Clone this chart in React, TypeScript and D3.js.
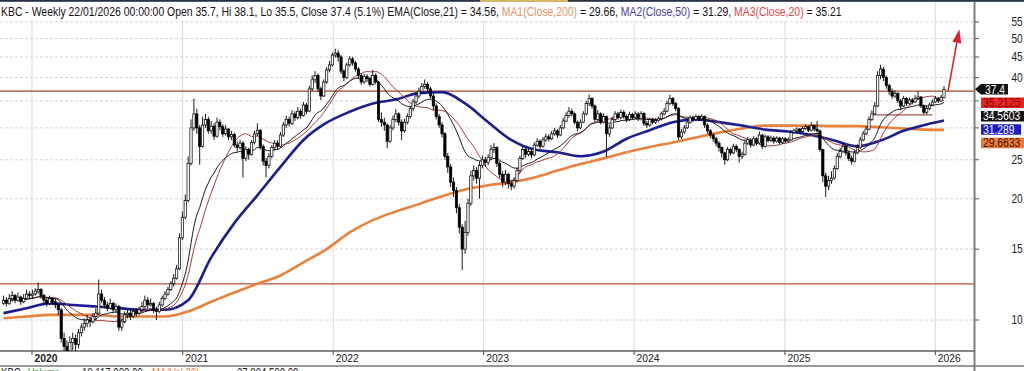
import React from 'react';
import * as d3 from 'd3';

// ---------- DATA ----------
const START_UTC = Date.UTC(2019, 9, 24); // first weekly bar
const END_UTC = Date.UTC(2026, 0, 22); // last weekly bar
const firstOpen = 11.0;

const closes = [
  11.2, 11.0, 11.3, 11.5, 11.2, 11.4, 11.1, 11.3, 11.6, 11.5,
  11.6, 11.8, 11.9, 11.5, 11.2, 11.0, 11.3, 11.1, 10.9, 10.6,
  9.0, 8.6, 8.3, 8.8, 9.0, 8.7, 9.3, 9.6, 9.8, 10.0,
  9.9, 10.2, 10.4, 11.6, 11.2, 10.9, 10.7, 11.0, 10.6, 10.8,
  9.6, 9.9, 10.3, 10.4, 10.2, 10.5, 10.4, 10.6, 10.8, 11.2,
  10.9, 11.0, 10.6, 10.5, 10.9, 11.3, 11.6, 11.9, 12.3, 12.7,
  13.4, 16.0, 18.0, 19.8, 24.5, 30.0, 32.5, 30.0, 27.0, 30.5,
  31.5, 29.5, 30.3, 28.6, 31.0, 30.2, 29.0, 29.8, 28.5, 28.9,
  27.2, 26.8, 27.5, 25.2, 26.5, 25.8, 27.6, 29.0, 29.6, 27.0,
  24.8, 24.2, 25.5, 26.8, 27.5, 27.0, 28.8, 30.5, 31.5, 30.8,
  32.5, 31.8, 33.0, 32.2, 34.2, 33.0, 37.5, 39.5, 40.5, 37.5,
  36.0, 39.0, 41.8, 43.0, 45.5, 46.0, 45.0, 41.5, 40.0, 43.0,
  44.5, 43.5, 42.0, 40.5, 39.0, 40.2, 39.8, 38.5, 40.5, 39.0,
  31.5, 31.0, 30.5, 27.8, 30.0, 31.5, 32.5, 31.0, 29.5, 31.0,
  32.0, 33.5, 34.8, 36.0, 37.0, 38.0, 38.5, 37.5, 36.0, 34.0,
  32.0, 30.5, 29.0, 25.5, 24.0, 22.0, 21.0, 19.0, 17.0, 15.0,
  16.5, 19.5, 22.8, 23.5, 22.5, 24.2, 25.0, 24.6, 25.3, 26.5,
  26.8, 24.5, 23.0, 22.0, 23.0, 21.8, 21.5, 22.2, 23.5, 25.2,
  26.5, 25.8, 26.2, 25.7, 27.2, 27.8, 27.0, 28.0, 28.5, 28.2,
  29.0, 29.5, 28.8, 30.0, 31.2, 32.2, 33.0, 32.5, 31.0, 30.0,
  31.0, 32.5, 34.5, 35.5, 34.0, 31.5, 32.5, 31.0, 32.0, 29.0,
  30.0, 31.5, 32.5, 31.8, 32.8, 32.0, 31.5, 32.4, 31.8, 32.5,
  31.6, 32.6, 30.8, 30.5, 31.5, 31.0, 31.3, 31.6, 32.5, 33.0,
  34.5, 35.5, 34.5, 33.5, 28.5, 29.3, 30.0, 31.0, 31.8, 31.5,
  32.0, 31.6, 32.0, 30.5, 29.5, 28.8, 28.2, 27.5, 26.8, 26.0,
  25.0, 26.5, 26.0, 27.0, 26.5, 25.5, 25.8, 27.5, 28.0, 27.2,
  28.2, 27.5, 28.8, 27.0, 28.5, 28.0, 28.3, 27.8, 28.3, 27.6,
  28.2, 27.8, 28.0, 29.2, 29.5, 29.8, 29.4, 29.9, 30.2, 29.6,
  30.4, 29.8, 29.5, 26.5, 22.8, 21.5, 22.2, 22.5, 23.8, 25.5,
  26.2, 27.0, 26.0, 25.2, 24.8, 26.0, 26.8, 28.0, 29.0, 29.8,
  31.5, 32.5, 34.0, 40.5, 42.0, 40.0, 38.2, 37.0, 36.0, 36.5,
  35.0, 34.0, 35.5, 34.5, 35.2, 34.8, 35.5, 35.8, 34.0, 32.8,
  33.5, 34.2, 34.8, 35.5, 35.0, 35.7, 37.4,
];

const highs = [
  11.5, 11.4, 11.6, 11.8, 11.6, 11.7, 11.5, 11.6, 11.9, 11.8,
  11.9, 12.0, 12.4, 12.0, 11.6, 11.4, 11.5, 11.4, 11.3, 11.0,
  10.7, 9.3, 8.9, 9.1, 9.3, 9.2, 9.5, 9.8, 10.1, 10.3,
  10.2, 10.4, 10.7, 12.6, 11.9, 11.4, 11.1, 11.3, 11.1, 11.0,
  10.9, 10.1, 10.5, 10.6, 10.6, 10.7, 10.7, 10.8, 11.1, 11.5,
  11.4, 11.3, 11.1, 10.8, 11.1, 11.5, 11.8, 12.1, 12.5, 13.0,
  13.7, 16.4, 18.6, 20.5, 25.5, 31.5, 35.5, 33.5, 30.5, 32.0,
  32.5, 32.0, 31.2, 30.8, 31.8, 31.5, 30.6, 30.5, 30.0, 29.5,
  29.2, 27.8, 28.0, 27.8, 27.0, 26.8, 28.0, 29.5, 30.8, 29.8,
  27.3, 25.3, 26.0, 27.2, 28.0, 28.0, 29.3, 31.0, 32.2, 32.0,
  33.2, 33.0, 33.8, 33.5, 34.8, 34.6, 38.2, 40.5, 41.5, 41.0,
  38.0, 39.6, 42.5, 44.0, 46.2, 47.2, 46.8, 45.5, 42.0, 43.6,
  45.2, 45.0, 44.0, 42.5, 41.0, 40.8, 40.8, 40.2, 41.8, 41.0,
  39.2, 32.8, 31.8, 30.8, 30.5, 32.2, 33.4, 32.8, 31.5, 31.6,
  32.6, 34.0, 35.4, 36.8, 37.8, 38.8, 39.6, 39.0, 38.0, 36.5,
  34.5, 32.5, 31.0, 29.3, 26.0, 24.4, 22.6, 21.4, 19.4, 17.3,
  17.6, 20.0, 23.5, 24.2, 24.0, 24.8, 25.6, 25.4, 25.8, 27.2,
  27.5, 27.0, 24.8, 23.4, 23.6, 23.2, 22.2, 22.6, 23.9, 25.6,
  27.0, 26.8, 26.7, 26.5, 27.6, 28.3, 28.1, 28.5, 29.0, 28.9,
  29.5, 30.0, 29.8, 30.5, 31.8, 32.8, 33.8, 33.5, 32.8, 31.3,
  31.5, 33.0, 35.0, 36.3, 35.8, 34.3, 33.2, 32.8, 32.6, 32.2,
  30.6, 32.0, 33.0, 32.9, 33.3, 33.2, 32.4, 32.9, 32.7, 33.0,
  32.8, 33.0, 32.8, 31.2, 31.8, 31.8, 31.7, 32.0, 32.9, 33.6,
  35.0, 36.3, 35.8, 34.8, 33.8, 29.8, 30.5, 31.5, 32.2, 32.2,
  32.4, 32.3, 32.4, 32.2, 30.8, 29.8, 29.1, 28.5, 27.8, 27.0,
  26.2, 26.9, 26.8, 27.4, 27.3, 26.7, 26.2, 27.9, 28.5, 28.3,
  28.6, 28.5, 29.4, 29.0, 28.9, 28.8, 28.7, 28.6, 28.6, 28.5,
  28.5, 28.4, 28.4, 29.6, 29.9, 30.1, 30.0, 30.3, 30.6, 30.4,
  31.0, 30.6, 31.2, 29.7, 26.6, 23.2, 22.8, 23.4, 24.2, 26.0,
  26.8, 27.5, 27.2, 26.3, 25.6, 26.4, 27.3, 28.5, 29.5, 30.3,
  32.0, 33.2, 34.8, 41.5, 43.0, 42.5, 40.5, 38.6, 37.6, 37.2,
  36.8, 35.4, 36.0, 35.8, 35.7, 35.6, 36.2, 37.0, 36.0, 34.3,
  34.0, 34.7, 35.3, 36.0, 35.8, 36.2, 38.1,
];

const lows = [
  10.9, 10.8, 10.9, 11.1, 11.0, 11.1, 10.9, 11.0, 11.2, 11.3,
  11.3, 11.5, 11.6, 11.3, 11.0, 10.8, 10.9, 10.9, 10.7, 10.3,
  8.8, 7.8, 7.6, 8.0, 8.4, 8.3, 8.5, 9.1, 9.4, 9.6,
  9.6, 9.8, 10.0, 10.3, 11.0, 10.7, 10.5, 10.6, 10.4, 10.4,
  9.4, 9.4, 9.8, 10.1, 10.0, 10.1, 10.2, 10.3, 10.5, 10.7,
  10.7, 10.8, 10.4, 10.0, 10.4, 10.8, 11.2, 11.5, 11.8, 12.1,
  12.6, 13.3, 15.8, 17.8, 19.6, 24.2, 29.5, 29.0, 24.3, 26.8,
  30.0, 29.0, 29.0, 28.0, 28.4, 29.6, 28.5, 28.7, 28.0, 28.0,
  26.8, 26.2, 26.5, 22.6, 24.8, 25.0, 25.6, 27.3, 28.6, 26.5,
  24.2, 22.6, 23.8, 25.2, 26.4, 26.5, 26.8, 28.5, 30.0, 30.2,
  30.5, 31.2, 31.5, 31.6, 32.0, 32.4, 32.8, 37.0, 38.8, 36.8,
  35.2, 35.8, 38.6, 41.2, 42.6, 44.8, 43.8, 40.8, 39.2, 39.6,
  42.6, 42.8, 41.4, 39.8, 38.4, 38.6, 39.0, 38.0, 38.2, 38.5,
  31.0, 30.2, 29.5, 26.7, 27.5, 29.6, 31.0, 30.4, 28.0, 29.2,
  30.6, 31.6, 33.0, 34.4, 35.5, 36.5, 37.5, 36.8, 35.5, 33.2,
  31.5, 30.0, 28.4, 25.0, 23.2, 21.4, 20.2, 18.4, 16.4, 13.3,
  14.6, 16.2, 19.2, 22.2, 21.8, 20.0, 23.8, 24.0, 24.2, 25.0,
  26.0, 24.0, 22.5, 21.4, 21.6, 21.2, 21.0, 21.2, 22.0, 23.2,
  25.0, 25.3, 25.5, 25.2, 25.5, 26.9, 26.6, 26.8, 27.7, 27.8,
  28.0, 28.7, 28.3, 28.6, 29.8, 31.0, 31.8, 32.0, 30.6, 29.4,
  29.8, 30.8, 32.2, 34.0, 33.5, 31.0, 31.2, 30.6, 30.8, 25.4,
  28.5, 29.8, 31.2, 31.4, 31.5, 31.6, 31.0, 31.2, 31.4, 31.5,
  31.2, 31.3, 30.3, 30.0, 30.2, 30.6, 30.7, 31.0, 31.3, 32.2,
  32.8, 34.2, 34.0, 33.0, 28.0, 28.2, 29.0, 29.8, 30.7, 31.0,
  31.2, 31.2, 31.3, 30.0, 29.0, 28.3, 27.7, 27.0, 26.2, 25.3,
  24.3, 24.8, 25.6, 25.8, 26.1, 24.6, 25.1, 25.6, 27.2, 26.8,
  27.0, 27.1, 27.3, 26.6, 26.8, 27.6, 27.7, 27.4, 27.6, 27.3,
  27.4, 27.5, 27.6, 27.9, 29.0, 29.2, 29.1, 29.2, 29.7, 29.3,
  29.4, 29.4, 29.2, 26.2, 22.0, 20.2, 21.0, 21.8, 22.3, 23.6,
  25.2, 26.0, 25.6, 24.8, 24.3, 24.6, 25.8, 26.6, 27.8, 28.8,
  29.6, 31.2, 32.3, 33.8, 39.6, 39.2, 37.5, 36.2, 35.4, 35.6,
  34.6, 33.2, 33.8, 34.0, 34.2, 34.3, 34.6, 35.2, 33.6, 32.4,
  32.4, 33.2, 34.0, 34.6, 34.6, 34.8, 35.5,
];

// Long moving averages (week index -> value)
const maSampleWeeks = [
  0, 8, 16, 24, 32, 40, 48, 56, 64, 72, 80, 88, 96, 104, 112, 120, 128, 136, 144, 152,
  160, 168, 176, 184, 192, 200, 208, 216, 224, 232, 240, 248, 256, 264, 272, 280, 288,
  296, 304, 312, 320, 326,
];
const ma200Values = [
  10.1, 10.2, 10.3, 10.3, 10.3, 10.2, 10.2, 10.2, 10.5, 11.1, 11.7, 12.3, 12.9, 13.9, 15.0,
  16.5, 17.7, 18.6, 19.4, 20.3, 21.1, 21.6, 22.0, 22.6, 23.5, 24.4, 25.2, 26.1, 26.9, 27.6,
  28.4, 29.2, 29.9, 30.4, 30.4, 30.4, 30.3, 30.3, 30.1, 29.9, 29.7, 29.66,
];
const ma50Values = [
  10.4, 10.7, 11.0, 10.9, 10.8, 10.7, 10.6, 10.6, 11.2, 14.3, 17.4, 20.4, 24.0, 28.0, 30.9,
  32.9, 34.5, 35.3, 36.6, 36.8, 34.5, 31.0, 28.0, 26.5, 26.1, 25.5, 26.2, 28.2, 29.6, 31.0,
  31.5, 31.0, 30.4, 29.7, 29.4, 28.8, 27.9, 27.0, 27.9, 29.5, 30.6, 31.29,
];

const yTicks = [10, 15, 20, 25, 30, 35, 40, 45, 50, 55];
const yearLabels = [2020, 2021, 2022, 2023, 2024, 2025, 2026];

const resistanceLevel = 37.0;
const supportLevel = 12.3;
const boxWeeks = [301, 322];
const boxLevel = 32.3;
const arrowFrom = { week: 327.4, value: 37.0 };
const arrowTo = { week: 331.3, value: 52.7 };

const tagValues = [37.4, 35.2125, 34.5603, 31.289, 29.6633];
const tagTexts = ['37.4', '35.2125', '34.5603', '31.289', '29.6633'];
const tagBg = ['#111111', '#e8261f', '#111111', '#1c1ccc', '#ef7a36'];
const tagFg = ['#ffffff', '#7a0c0c', '#ffffff', '#ffffff', '#3a1606'];

const headerParts = [
  'KBC - Weekly 22/01/2026 00:00:00 Open 35.7, Hi 38.1, Lo 35.5, Close 37.4 (5.1%) EMA(Close,21) = 34.56, ',
  'MA1(Close,200)',
  ' = 29.66, ',
  'MA2(Close,50)',
  ' = 31.29, ',
  'MA3(Close,20)',
  ' = 35.21',
];
const headerColors = ['#111', '#e0946a', '#111', '#4a3ea6', '#111', '#d9464a', '#111'];

// ---------- LAYOUT ----------
const W = 1024;
const H = 371;
const plotRight = 974;
const plotBottom = 351;
const headerWidth = 841;
const FONT = "'Liberation Sans', Arial, Helvetica, sans-serif";

const weekDate = (i: number) => new Date(START_UTC + i * 7 * 86400000);

const x = d3.scaleUtc().domain([new Date(START_UTC), new Date(END_UTC)]).range([3.5, 944]);
const y = d3.scaleLog().domain([10, 55]).range([320, 21.9]);

const xw = (w: number) => x(weekDate(w));

function T(props: any) {
  const { x: tx, y: ty, sx = 1, size = 12, fill = '#000', anchor = 'start', weight = 'normal', children } = props;
  return (
    <text
      transform={`translate(${tx},${ty}) scale(${sx},1)`}
      fontSize={size}
      fill={fill}
      textAnchor={anchor}
      fontWeight={weight}
      fontFamily={FONT}
    >
      {children}
    </text>
  );
}

export default function App() {
  const headerRef = React.useRef<SVGTextElement>(null);
  const [hScale, setHScale] = React.useState(0.84);

  React.useLayoutEffect(() => {
    const el = headerRef.current;
    if (el) {
      const w = el.getComputedTextLength();
      if (w > 0) setHScale(headerWidth / w);
    }
  }, []);

  const opens = closes.map((c, i) => (i === 0 ? firstOpen : closes[i - 1]));

  // Short averages from the closes
  const alpha = 2 / 22;
  const ema: number[] = [];
  closes.forEach((c, i) => ema.push(i === 0 ? c : alpha * c + (1 - alpha) * ema[i - 1]));
  const ma20 = closes.map((_, i) => d3.mean(closes.slice(Math.max(0, i - 19), i + 1)) as number);

  const lineGen = d3
    .line<[number, number]>()
    .x((d) => xw(d[0]))
    .y((d) => y(d[1]))
    .curve(d3.curveMonotoneX);

  const emaPath = lineGen(ema.map((v, i) => [i, v]));
  const ma20Path = lineGen(ma20.map((v, i) => [i, v]));
  const ma200Path = lineGen(maSampleWeeks.map((w, i) => [w, ma200Values[i]]));
  const ma50Path = lineGen(maSampleWeeks.map((w, i) => [w, ma50Values[i]]));

  // tag positions (stacked downward)
  const tagY: number[] = [];
  tagValues.forEach((v, i) => {
    const yy = y(v);
    tagY.push(i === 0 ? yy : Math.max(yy, tagY[i - 1] + 13.4));
  });

  // arrow geometry
  const ax0 = xw(arrowFrom.week), ay0 = y(arrowFrom.value);
  const ax1 = xw(arrowTo.week), ay1 = y(arrowTo.value);
  const dx = ax1 - ax0, dy = ay1 - ay0;
  const len = Math.hypot(dx, dy);
  const ux = dx / len, uy = dy / len;
  const hl = 13.5, hw = 4.5;
  const bx = ax1 - ux * hl, by = ay1 - uy * hl;
  const head = `M${ax1},${ay1} L${bx - uy * hw},${by + ux * hw} L${bx + uy * hw},${by - ux * hw} Z`;

  return (
    <svg
      width={W}
      height={H}
      viewBox={`0 0 ${W} ${H}`}
      style={{ position: 'absolute', left: 0, top: 0, background: '#fff' }}
    >
      <defs>
        <clipPath id="plot">
          <rect x={0} y={2} width={plotRight} height={plotBottom - 2} />
        </clipPath>
      </defs>
      <rect x={0} y={0} width={W} height={H} fill="#fff" />
      {/* top toolbar strip */}
      <rect x={0} y={0} width={W} height={1.8} fill="#2a3344" />
      <rect x={480} y={0} width={88} height={2.2} fill="#d9b56a" />

      {/* grid */}
      <g>
        {yearLabels.map((yr) => {
          const gx = x(new Date(Date.UTC(yr, 0, 1)));
          return <line key={yr} x1={gx} x2={gx} y1={2} y2={plotBottom} stroke="#dadada" strokeWidth={1} />;
        })}
        {yTicks.map((t) => (
          <line key={t} x1={0} x2={plotRight} y1={y(t)} y2={y(t)} stroke="#d6d6d6" strokeWidth={1} strokeDasharray="3 2" />
        ))}
      </g>

      <g clipPath="url(#plot)">
        {/* horizontal drawn levels */}
        <line x1={0} x2={plotRight} y1={y(resistanceLevel)} y2={y(resistanceLevel)} stroke="#a8402f" strokeWidth={1.2} />
        <line x1={0} x2={plotRight} y1={y(supportLevel)} y2={y(supportLevel)} stroke="#b9543a" strokeWidth={1.2} />
        <line x1={xw(boxWeeks[0])} x2={xw(boxWeeks[1])} y1={y(boxLevel)} y2={y(boxLevel)} stroke="#9a5a48" strokeWidth={1.2} />

        {/* moving averages */}
        <path d={ma200Path || ''} fill="none" stroke="#e9823d" strokeWidth={2.6} />
        <path d={ma50Path || ''} fill="none" stroke="#1c1e92" strokeWidth={2.6} />
        <path d={ma20Path || ''} fill="none" stroke="#a53a3a" strokeWidth={1} />
        <path d={emaPath || ''} fill="none" stroke="#1a1a1a" strokeWidth={1} />

        {/* candles */}
        {closes.map((c, i) => {
          const cx = xw(i);
          const o = opens[i];
          const up = c >= o;
          const top = y(Math.max(o, c));
          const bot = y(Math.min(o, c));
          return (
            <g key={i}>
              <line x1={cx} x2={cx} y1={y(highs[i])} y2={y(lows[i])} stroke="#000" strokeWidth={0.9} />
              <rect
                x={cx - 1.15}
                y={top}
                width={2.3}
                height={Math.max(0.8, bot - top)}
                fill={up ? '#ffffff' : '#000000'}
                stroke="#000"
                strokeWidth={0.7}
              />
            </g>
          );
        })}
      </g>

      {/* arrow */}
      <line x1={ax0} y1={ay0} x2={bx} y2={by} stroke="#d8262a" strokeWidth={1.6} />
      <path d={head} fill="#e0202a" />

      {/* header */}
      <rect x={0} y={2} width={846} height={18.5} fill="#fff" />
      <text
        ref={headerRef}
        transform={`translate(1,16) scale(${hScale},1)`}
        fontSize={12}
        fontFamily={FONT}
        fill="#111"
        style={{ whiteSpace: 'pre' }}
      >
        {headerParts.map((p, i) => (
          <tspan key={i} fill={headerColors[i]}>
            {p}
          </tspan>
        ))}
      </text>

      {/* x axis */}
      <line x1={0} x2={plotRight} y1={plotBottom} y2={plotBottom} stroke="#111" strokeWidth={1.2} />
      {yearLabels.map((yr, i) => {
        const gx = x(new Date(Date.UTC(yr, 0, 1)));
        return (
          <g key={yr}>
            <line x1={gx} x2={gx} y1={plotBottom} y2={plotBottom + 4} stroke="#444" strokeWidth={1} />
            <T x={gx + 2.5} y={361.5} size={11} sx={0.94} fill="#222" weight={i === 0 ? 'bold' : 'normal'}>
              {String(yr)}
            </T>
          </g>
        );
      })}
      <line x1={0} x2={W} y1={366} y2={366} stroke="#333" strokeWidth={1} />

      {/* volume panel legend (cut off at the bottom edge, as in the source) */}
      <T x={1} y={376.5} size={12} sx={0.8} fill="#222">KBC -</T>
      <T x={28} y={376.5} size={12} sx={0.8} fill="#3aa63a">Volume</T>
      <T x={82} y={376.5} size={12} sx={0.8} fill="#222">18,117,000.00</T>
      <T x={152} y={376.5} size={12} sx={0.8} fill="#e9823d">MA(Vol,20)</T>
      <T x={237} y={376.5} size={12} sx={0.8} fill="#222">27,884,500.00</T>

      {/* right axis */}
      <line x1={plotRight + 0.5} x2={plotRight + 0.5} y1={2} y2={H} stroke="#7d7d7d" strokeWidth={2} />
      {yTicks.map((t) => (
        <g key={t}>
          <line x1={plotRight + 1} x2={plotRight + 5} y1={y(t)} y2={y(t)} stroke="#555" strokeWidth={1} />
          {t !== 30 && t !== 35 ? (
            <T x={1011.5} y={y(t) + 4.3} size={12} sx={0.84} fill="#222">
              {String(t)}
            </T>
          ) : null}
        </g>
      ))}

      {/* value tags */}
      {tagValues.map((v, i) => {
        const cy = tagY[i];
        const h = 10.5;
        const left = 981;
        const right = i === 0 ? 1008 : i === 3 ? 1021 : W;
        const d =
          i === 0
            ? `M${plotRight + 1},${cy} L${left},${cy - h / 2} L${right},${cy - h / 2} L${right},${cy + h / 2} L${left},${cy + h / 2} Z`
            : `M${left},${cy - h / 2} L${right},${cy - h / 2} L${right},${cy + h / 2} L${left},${cy + h / 2} Z`;
        return (
          <g key={i}>
            <path d={d} fill={tagBg[i]} />
            <T x={i === 0 ? 985 : 983} y={cy + 4.3} size={12} sx={0.86} fill={tagFg[i]}>
              {tagTexts[i]}
            </T>
          </g>
        );
      })}
    </svg>
  );
}
